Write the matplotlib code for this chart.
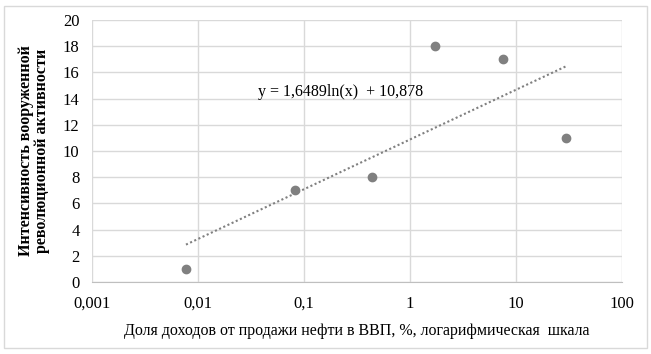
import numpy as np
import matplotlib.pyplot as plt
from matplotlib.patches import Rectangle
from matplotlib.ticker import FixedLocator, FixedFormatter, NullLocator

# data
oil_share = [0.0077, 0.082, 0.44, 1.72, 7.5, 29.6]
intensity = [1, 7, 8, 18, 17, 11]
coef_a = 1.6489
coef_b = 10.878

x_ticks = [0.001, 0.01, 0.1, 1, 10, 100]
x_tick_labels = ["0,001", "0,01", "0,1", "1", "10", "100"]
y_ticks = list(range(0, 21, 2))

plt.rcParams['font.family'] = ['Liberation Serif', 'DejaVu Serif']

fig = plt.figure(figsize=(6.51, 3.54), dpi=100)
ax = fig.add_axes([92 / 651, 1 - 282 / 354, 530 / 651, 262 / 354])

# frame around the whole chart
fig.patches.append(Rectangle((4 / 651, 6 / 354), 643 / 651, 342 / 354,
                             transform=fig.transFigure, fill=False,
                             edgecolor="#d9d9d9", linewidth=1))

ax.set_xscale("log")
ax.set_xlim(0.001, 100)
ax.set_ylim(0, 20)

ax.xaxis.set_major_locator(FixedLocator(x_ticks))
ax.xaxis.set_major_formatter(FixedFormatter(x_tick_labels))
ax.xaxis.set_minor_locator(NullLocator())
ax.set_yticks(y_ticks)

ax.grid(True, color="#d9d9d9", linewidth=1)
ax.set_axisbelow(True)
for side in ["top", "right", "left"]:
    ax.spines[side].set_visible(False)
ax.spines["bottom"].set_color("#bfbfbf")
ax.tick_params(length=0, labelsize=12)
ax.tick_params(axis="x", pad=10)
ax.tick_params(axis="y", pad=9)

# logarithmic trend line
xs = np.logspace(np.log10(min(oil_share)), np.log10(max(oil_share)), 100)
ax.plot(xs, coef_a * np.log(xs) + coef_b, linestyle=(0, (1, 1.2)),
        color="#808080", linewidth=1.5)

ax.scatter(oil_share, intensity, s=36, color="#808080", zorder=3)

ax.text(0.037, 14.5, "y = 1,6489ln(x)  + 10,878", fontsize=11.5,
        va="center", ha="left")

ax.set_xlabel("Доля доходов от продажи нефти в ВВП, %, логарифмическая  шкала",
              fontsize=11.5, labelpad=8)
ax.set_ylabel("Интенсивность вооруженной\nреволюционной активности",
              fontsize=11.5, fontweight="bold", labelpad=9, linespacing=1.0)

fig.savefig("out.png", dpi=100)
